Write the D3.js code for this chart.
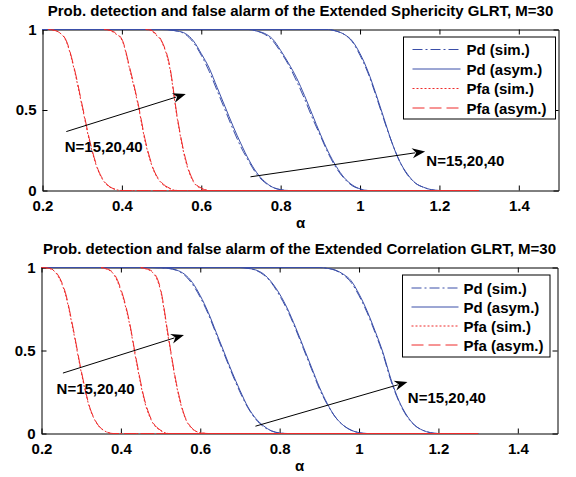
<!DOCTYPE html>
<html>
<head>
<meta charset="utf-8">
<script src="https://cdn.jsdelivr.net/npm/d3@7"></script>
<style>
  body { margin: 0; background: #fff; }
  svg { display: block; }
  text { font-family: "Liberation Sans", Arial, Helvetica, sans-serif; font-weight: bold; font-size: 15px; fill: #000; }
</style>
</head>
<body>
<svg id="fig" width="576" height="477"></svg>
<script>
// axis ticks and labels
const alphaTicks = [0.2, 0.4, 0.6, 0.8, 1, 1.2, 1.4];
const probTicks = [0, 0.5, 1];
const legendLabels = ["Pd (sim.)", "Pd (asym.)", "Pfa (sim.)", "Pfa (asym.)"];
const noteText = "N=15,20,40";

// --- Extended Sphericity GLRT (N = 15, 20, 40) ---
const sphPdAlpha = [
  [0.2, 0.5, 0.54, 0.56, 0.58, 0.60, 0.62, 0.64, 0.66, 0.68, 0.70, 0.72, 0.74, 0.76, 0.78, 0.80, 0.82, 1.3],
  [0.2, 0.72, 0.74, 0.76, 0.78, 0.80, 0.82, 0.84, 0.86, 0.88, 0.90, 0.92, 0.94, 0.96, 0.98, 1.00, 1.02, 1.3],
  [0.2, 0.92, 0.94, 0.96, 0.98, 1.00, 1.02, 1.04, 1.06, 1.08, 1.10, 1.12, 1.14, 1.16, 1.18, 1.20, 1.3]
];
const sphPdAsym = [
  [1, 1, 0.99, 0.975, 0.93, 0.85, 0.76, 0.64, 0.52, 0.40, 0.29, 0.19, 0.11, 0.055, 0.02, 0.005, 0, 0],
  [1, 1, 0.99, 0.975, 0.94, 0.87, 0.79, 0.70, 0.59, 0.47, 0.35, 0.24, 0.15, 0.08, 0.035, 0.01, 0, 0],
  [1, 1, 0.99, 0.97, 0.93, 0.85, 0.74, 0.60, 0.45, 0.30, 0.18, 0.10, 0.045, 0.02, 0.005, 0, 0]
];
const sphPdSim = [
  [1, 1, 0.99, 0.97, 0.92, 0.84, 0.74, 0.62, 0.50, 0.38, 0.27, 0.18, 0.10, 0.05, 0.02, 0.005, 0, 0],
  [1, 1, 0.99, 0.97, 0.93, 0.86, 0.78, 0.68, 0.57, 0.45, 0.34, 0.23, 0.14, 0.075, 0.03, 0.01, 0, 0],
  [1, 1, 0.99, 0.97, 0.925, 0.84, 0.73, 0.59, 0.44, 0.30, 0.18, 0.095, 0.045, 0.02, 0.005, 0, 0]
];
const sphPfaAlpha = [
  [0.215, 0.23, 0.24, 0.26, 0.28, 0.30, 0.32, 0.34, 0.36, 0.38, 0.40, 1.3],
  [0.355, 0.37, 0.38, 0.40, 0.42, 0.44, 0.46, 0.48, 0.50, 0.52, 0.54, 1.3],
  [0.46, 0.475, 0.48, 0.50, 0.52, 0.54, 0.56, 0.58, 0.60, 0.62, 1.3]
];
const sphPfaAsym = [
  [1, 0.995, 0.985, 0.93, 0.76, 0.53, 0.30, 0.13, 0.045, 0.01, 0, 0],
  [1, 0.995, 0.985, 0.94, 0.76, 0.55, 0.30, 0.13, 0.05, 0.015, 0, 0],
  [1, 0.995, 0.985, 0.93, 0.78, 0.45, 0.20, 0.06, 0.015, 0, 0]
];
const sphPfaSim = [
  [1, 0.995, 0.985, 0.925, 0.75, 0.52, 0.29, 0.125, 0.04, 0.01, 0, 0],
  [1, 0.995, 0.98, 0.935, 0.75, 0.54, 0.29, 0.125, 0.045, 0.012, 0, 0],
  [1, 0.995, 0.98, 0.925, 0.77, 0.44, 0.19, 0.055, 0.012, 0, 0]
];

// --- Extended Correlation GLRT (N = 15, 20, 40) ---
const corPdAlpha = [
  [0.2, 0.48, 0.50, 0.52, 0.54, 0.56, 0.58, 0.60, 0.62, 0.64, 0.66, 0.68, 0.70, 0.72, 0.74, 0.76, 0.78, 0.80, 0.82, 1.3],
  [0.2, 0.70, 0.72, 0.74, 0.76, 0.78, 0.80, 0.82, 0.84, 0.86, 0.88, 0.90, 0.92, 0.94, 0.96, 0.98, 1.00, 1.02, 1.3],
  [0.2, 0.90, 0.92, 0.94, 0.96, 0.98, 1.00, 1.02, 1.04, 1.06, 1.08, 1.10, 1.12, 1.14, 1.16, 1.18, 1.20, 1.3]
];
const corPdAsym = [
  [1, 1, 0.998, 0.995, 0.985, 0.96, 0.91, 0.83, 0.73, 0.61, 0.49, 0.37, 0.26, 0.16, 0.09, 0.045, 0.015, 0.003, 0, 0],
  [1, 1, 0.995, 0.985, 0.96, 0.91, 0.84, 0.75, 0.64, 0.52, 0.40, 0.28, 0.18, 0.10, 0.05, 0.02, 0.005, 0, 0],
  [1, 1, 0.995, 0.985, 0.96, 0.92, 0.84, 0.74, 0.62, 0.49, 0.33, 0.20, 0.11, 0.05, 0.02, 0.005, 0, 0]
];
const corPdSim = [
  [1, 1, 0.998, 0.994, 0.983, 0.955, 0.90, 0.82, 0.72, 0.60, 0.48, 0.36, 0.25, 0.155, 0.085, 0.04, 0.015, 0.003, 0, 0],
  [1, 1, 0.995, 0.983, 0.955, 0.905, 0.83, 0.74, 0.63, 0.51, 0.39, 0.27, 0.175, 0.10, 0.05, 0.02, 0.005, 0, 0],
  [1, 1, 0.995, 0.983, 0.955, 0.91, 0.83, 0.73, 0.61, 0.48, 0.32, 0.195, 0.105, 0.05, 0.02, 0.005, 0, 0]
];
const corPfaAlpha = [
  [0.2, 0.22, 0.24, 0.26, 0.28, 0.30, 0.32, 0.34, 0.36, 0.38, 1.3],
  [0.35, 0.36, 0.38, 0.40, 0.42, 0.44, 0.46, 0.48, 0.50, 0.52, 1.3],
  [0.45, 0.46, 0.48, 0.50, 0.52, 0.54, 0.56, 0.58, 0.60, 0.62, 1.3]
];
const corPfaAsym = [
  [1, 0.995, 0.96, 0.85, 0.63, 0.38, 0.17, 0.06, 0.015, 0, 0],
  [1, 0.995, 0.97, 0.87, 0.69, 0.43, 0.20, 0.07, 0.02, 0, 0],
  [1, 0.995, 0.975, 0.87, 0.58, 0.30, 0.11, 0.03, 0.005, 0, 0]
];
const corPfaSim = [
  [1, 0.994, 0.955, 0.84, 0.62, 0.37, 0.165, 0.058, 0.014, 0, 0],
  [1, 0.994, 0.965, 0.86, 0.68, 0.42, 0.19, 0.065, 0.018, 0, 0],
  [1, 0.994, 0.97, 0.86, 0.57, 0.29, 0.105, 0.028, 0.005, 0, 0]
];

const blue = "#3a4ea8", red = "#ee2b2b";
const styles = [
  { color: blue, dash: "10,3,2,3", width: 1 },   // Pd sim
  { color: blue, dash: null, width: 1 },         // Pd asym
  { color: red, dash: "2,2", width: 1 },         // Pfa sim
  { color: red, dash: "12,5", width: 1 }         // Pfa asym
];

const panels = [
  {
    title: "Prob. detection and false alarm of the Extended Sphericity GLRT, M=30",
    left: 42.5, right: 558.5, top: 29.5, bottom: 190.5,
    pdAlpha: sphPdAlpha, pdAsym: sphPdAsym, pdSim: sphPdSim,
    pfaAlpha: sphPfaAlpha, pfaAsym: sphPfaAsym, pfaSim: sphPfaSim,
    legend: { x: 403.5, y: 37, w: 152, h: 82, lineX: 9, lineW: 48, textX: 63, row0: 12.5, rowH: 19.5 },
    arrows: [[0.26, 0.366, 0.561, 0.599], [0.724, 0.085, 1.164, 0.243]],
    notes: [[0.256, 0.24], [1.167, 0.15]]
  },
  {
    title: "Prob. detection and false alarm of the Extended Correlation GLRT, M=30",
    left: 41.5, right: 557.5, top: 267.5, bottom: 433.5,
    pdAlpha: corPdAlpha, pdAsym: corPdAsym, pdSim: corPdSim,
    pfaAlpha: corPfaAlpha, pfaAsym: corPfaAsym, pfaSim: corPfaSim,
    legend: { x: 402.5, y: 275, w: 147.5, h: 82, lineX: 9, lineW: 47, textX: 61, row0: 13, rowH: 19 },
    arrows: [[0.254, 0.364, 0.559, 0.594], [0.739, 0.044, 1.122, 0.31]],
    notes: [[0.238, 0.238], [1.123, 0.184]]
  }
];

const svg = d3.select("#fig");

function drawPanel(p) {
  const x = d3.scaleLinear().domain([0.2, 1.5]).range([p.left, p.right]);
  const y = d3.scaleLinear().domain([0, 1]).range([p.bottom, p.top]);
  const g = svg.append("g");

  // axes box with inward ticks (matlab style)
  const fmt = d3.format("~g");
  const bottomAxis = g.append("g").attr("transform", `translate(0,${p.bottom})`)
    .call(d3.axisBottom(x).tickValues(alphaTicks).tickSizeInner(-5).tickSizeOuter(0).tickFormat(fmt));
  bottomAxis.selectAll("text").attr("y", 20).attr("dy", null);
  const leftAxis = g.append("g").attr("transform", `translate(${p.left},0)`)
    .call(d3.axisLeft(y).tickValues(probTicks).tickSizeInner(-5).tickSizeOuter(0).tickPadding(6).tickFormat(fmt));
  leftAxis.selectAll("text").attr("dy", "0.33em");
  g.append("g").attr("transform", `translate(0,${p.top})`)
    .call(d3.axisTop(x).tickValues(alphaTicks).tickSizeInner(-5).tickSizeOuter(0).tickFormat(""));
  g.append("g").attr("transform", `translate(${p.right},0)`)
    .call(d3.axisRight(y).tickValues(probTicks).tickSizeInner(-5).tickSizeOuter(0).tickFormat(""));
  g.selectAll(".tick text").attr("font-size", null).attr("font-family", null);
  g.selectAll("g").attr("font-size", null).attr("font-family", null);
  g.selectAll(".domain, .tick line").attr("stroke", "#000");

  const line = d3.line().x(d => x(d[0])).y(d => y(d[1])).curve(d3.curveMonotoneX);
  const zip = (a, v) => a.map((ai, i) => [ai, v[i]]);

  const series = [
    { alpha: p.pdAlpha, vals: p.pdAsym, s: styles[1] },
    { alpha: p.pdAlpha, vals: p.pdSim, s: styles[0] },
    { alpha: p.pfaAlpha, vals: p.pfaAsym, s: styles[3] },
    { alpha: p.pfaAlpha, vals: p.pfaSim, s: styles[2] }
  ];
  series.forEach(sr => {
    sr.alpha.forEach((a, k) => {
      g.append("path")
        .attr("d", line(zip(a, sr.vals[k])))
        .attr("fill", "none")
        .attr("stroke", sr.s.color)
        .attr("stroke-width", sr.s.width)
        .attr("stroke-dasharray", sr.s.dash);
    });
  });

  // arrows and notes
  p.arrows.forEach(ar => {
    const x1 = x(ar[0]), y1 = y(ar[1]), x2 = x(ar[2]), y2 = y(ar[3]);
    const ang = Math.atan2(y2 - y1, x2 - x1);
    const L = 13, W = 5;
    const bx = x2 - L * Math.cos(ang), by = y2 - L * Math.sin(ang);
    g.append("line").attr("x1", x1).attr("y1", y1).attr("x2", bx + 3 * Math.cos(ang)).attr("y2", by + 3 * Math.sin(ang))
      .attr("stroke", "#000").attr("stroke-width", 1);
    const px = -Math.sin(ang), py = Math.cos(ang);
    g.append("path")
      .attr("d", `M${x2},${y2}L${bx + W * px},${by + W * py}L${bx + 4 * Math.cos(ang)},${by + 4 * Math.sin(ang)}L${bx - W * px},${by - W * py}Z`)
      .attr("fill", "#000");
  });
  p.notes.forEach(n => {
    g.append("text").attr("x", x(n[0])).attr("y", y(n[1])).text(noteText);
  });

  // title and x label
  g.append("text").attr("x", (p.left + p.right) / 2).attr("y", p.top - 14)
    .attr("text-anchor", "middle").text(p.title);
  g.append("text").attr("x", (p.left + p.right) / 2).attr("y", p.bottom + 37)
    .attr("text-anchor", "middle").text("α");

  // legend
  const lg = g.append("g").attr("transform", `translate(${p.legend.x},${p.legend.y})`);
  lg.append("rect").attr("width", p.legend.w).attr("height", p.legend.h)
    .attr("fill", "#fff").attr("stroke", "#000").attr("stroke-width", 1);
  legendLabels.forEach((lab, i) => {
    const ly = p.legend.row0 + i * p.legend.rowH;
    lg.append("line").attr("x1", p.legend.lineX).attr("x2", p.legend.lineX + p.legend.lineW)
      .attr("y1", ly).attr("y2", ly)
      .attr("stroke", styles[i].color).attr("stroke-width", 1)
      .attr("stroke-dasharray", styles[i].dash);
    lg.append("text").attr("x", p.legend.textX).attr("y", ly + 5.5).text(lab);
  });
}

panels.forEach(drawPanel);
</script>
</body>
</html>
